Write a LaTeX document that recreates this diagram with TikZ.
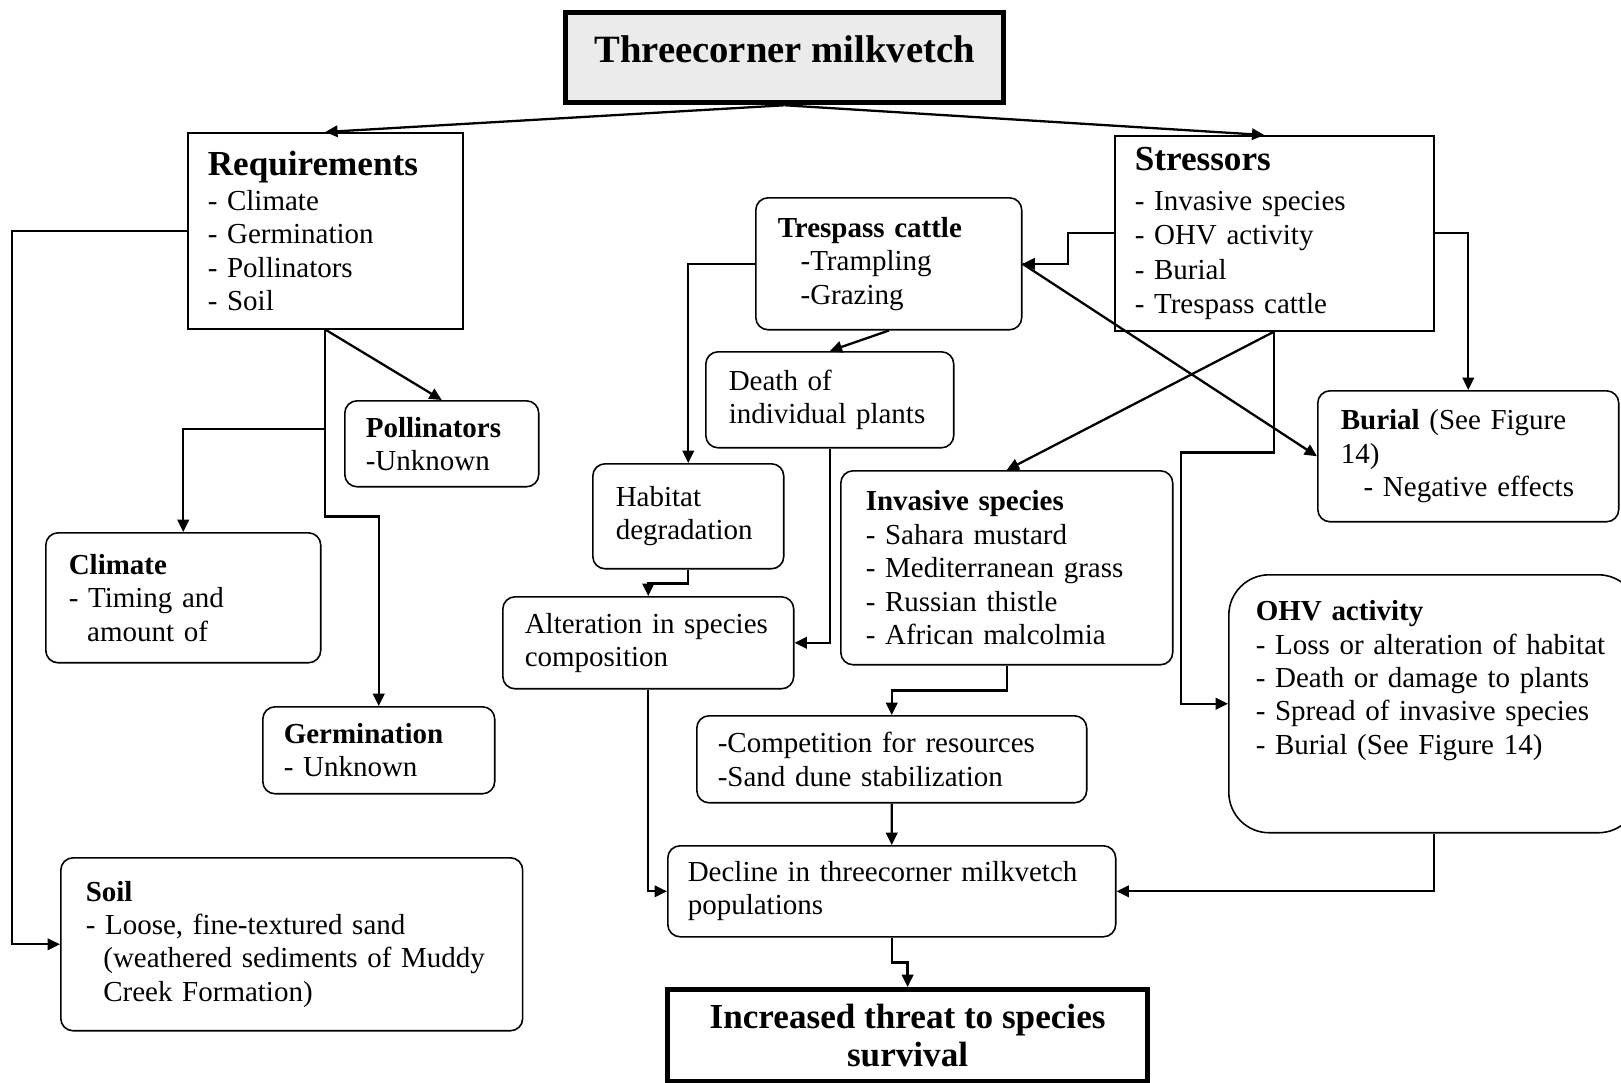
\documentclass[tikz,border=0pt]{standalone}
\usepackage{fontspec}
\setmainfont{Liberation Serif}
\usetikzlibrary{arrows.meta}
\definecolor{titlegray}{gray}{0.92}

\begin{document}
\begin{tikzpicture}[x=0.02cm, y=-0.02cm,
        >={Triangle[length=7pt,width=6.5pt]},
        box/.style={draw, line width=0.9pt, anchor=north west, align=left,
            inner ysep=0pt, font=\fontsize{16.5}{19}\selectfont},
        rbox/.style={box, rounded corners=7pt},
        headbox/.style={draw, line width=3pt, anchor=north west, align=center,
            font=\fontsize{20}{22}\selectfont\bfseries},
        link/.style={->, line width=1.3pt}]
\useasboundingbox (0,0) rectangle (1621,1082);

\node[headbox, fill=titlegray, minimum width=8.76cm, minimum height=1.8cm,
    text height=16pt, text depth=10pt, font=\fontsize{22}{24}\selectfont\bfseries]
    (title) at (563,10) {Threecorner milkvetch};

% requirements side
\node[box, text width=4.7cm, inner xsep=0.4cm, minimum height=3.92cm] (req) at (187,132)
    {{\fontsize{20}{23}\selectfont\bfseries Requirements}\\[1pt]
     - Climate\\ - Germination\\ - Pollinators\\ - Soil};
\node[rbox, text width=3.04cm, inner xsep=0.42cm, minimum height=1.72cm] (pol) at (344,400)
    {\textbf{Pollinators}\\ -Unknown};
\node[rbox, text width=4.58cm, inner xsep=0.46cm, minimum height=2.6cm] (clim) at (45,532)
    {\textbf{Climate}\\ - Timing and\\ \hspace*{10.5pt}amount of};
\node[rbox, text width=3.8cm, inner xsep=0.42cm, minimum height=1.74cm] (germ) at (262,706)
    {\textbf{Germination}\\ - Unknown};
\node[rbox, text width=8.24cm, inner xsep=0.5cm, minimum height=3.46cm] (soil) at (60,857)
    {\textbf{Soil}\\ - Loose, fine-textured sand\\
     \hspace*{10pt}\mbox{(weathered sediments of Muddy}\\ \hspace*{10pt}Creek Formation)};

% stressors side
\node[box, text width=5.58cm, inner xsep=0.4cm, minimum height=3.9cm] (str) at (1114,135)
    {{\fontsize{20}{23}\selectfont\bfseries Stressors}\\[4pt]
     - Invasive species\\[0.5pt] - OHV activity\\[0.5pt] - Burial\\[0.5pt] - Trespass cattle};
\node[rbox, text width=4.44cm, inner xsep=0.44cm, minimum height=2.64cm] (tc) at (755,197)
    {\textbf{Trespass cattle}\\ \hspace*{13pt}-Trampling\\ \hspace*{13pt}-Grazing};
\node[rbox, text width=4.04cm, inner xsep=0.46cm, minimum height=1.92cm] (death) at (705,351)
    {Death of\\ \mbox{individual plants}};
\node[rbox, text width=2.9cm, inner xsep=0.46cm, minimum height=2.1cm] (hab) at (592,463)
    {Habitat\\ degradation};
\node[rbox, text width=4.94cm, inner xsep=0.44cm, minimum height=1.84cm] (alt) at (502,596)
    {\mbox{Alteration in species}\\ composition};
\node[rbox, text width=5.64cm, inner xsep=0.5cm, minimum height=3.88cm] (inv) at (840,470)
    {\textbf{Invasive species}\\ - Sahara mustard\\ - Mediterranean grass\\
     - Russian thistle\\ - African malcolmia};
\node[rbox, text width=5.1cm, inner xsep=0.46cm, minimum height=2.62cm] (bur) at (1317,390)
    {\textbf{Burial} (See Figure\\ 14)\\ \hspace*{13pt}- Negative effects};
\node[rbox, text width=6.96cm, inner xsep=0.42cm, minimum height=1.74cm] (comp) at (696,715)
    {-Competition for resources\\ -Sand dune stabilization};
\node[rbox, rounded corners=23pt, text width=7.12cm, inner xsep=0.54cm, minimum height=5.16cm]
    (ohv) at (1228,574)
    {\textbf{OHV activity}\\ \mbox{- Loss or alteration of habitat}\\ - Death or damage to plants\\
     - Spread of invasive species\\ - Burial (See Figure 14)\\[11pt] \mbox{}};
\node[rbox, text width=8.16cm, inner xsep=0.4cm, minimum height=1.82cm] (decl) at (667,845)
    {\mbox{Decline in threecorner milkvetch}\\ populations};
\node[headbox, minimum width=9.6cm, minimum height=1.84cm] (inc) at (665,987)
    {Increased threat to species\\ survival};

\coordinate (reqbranch) at (req.south |- 0,429);

\draw[link] (title.south) -- (req.north);
\draw[link] (title.south) -- ([xshift=-0.2cm]str.north);
\draw[link] (req.west) -- ++(-175,0) |- (soil.west);
\draw[link] (req.south) -- (pol.north);
\draw[link] (req.south) -- ++(0,187) -| (germ.north);
\draw[link] (reqbranch) -| (clim.north);

\draw[link] (str.west) -- ++(-46,0) |- (tc.east);
\draw[link] (str.east) -| (bur.north);
\draw[link] (tc.east) -- (bur.west);
\draw[link] (str.south) -- (inv.north);
\draw[link] (str.south) -- ++(0,121) -- ++(-93,0) |- (ohv.west);

\draw[link] (tc.west) -| (hab.north);
\draw[link] (tc.south) -- (death.north);
\draw[link] (death.south) |- (alt.east);
\draw[link] (hab.south) -- ++(0,14) -| (alt.north);
\draw[link] (alt.south) |- (decl.west);
\draw[link] (inv.south) -- ++(0,25) -| (comp.north);
\draw[link] (comp.south) -- (decl.north);
\draw[link] (ohv.south) |- (decl.east);
\draw[link] (decl.south) -- ++(0,25) -| (inc.north);

\end{tikzpicture}
\end{document}
